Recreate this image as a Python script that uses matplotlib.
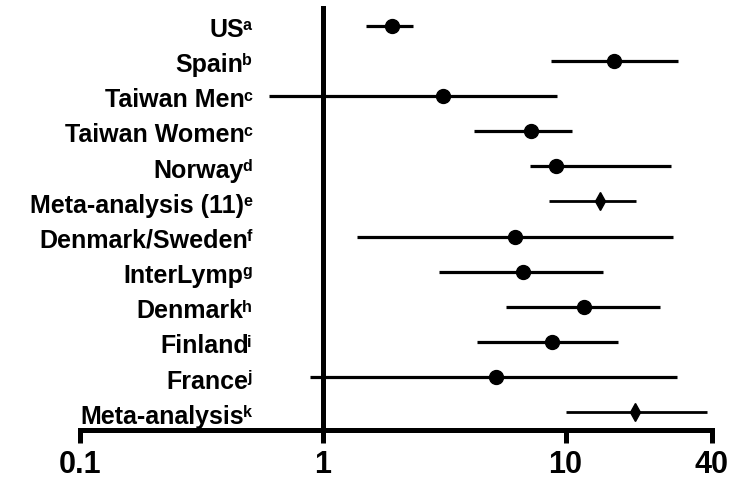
import matplotlib
matplotlib.use("Agg")
import matplotlib.pyplot as plt
import numpy as np

plt.rcParams['font.family'] = ['Liberation Sans', 'DejaVu Sans']

# Study names, footnote letters and odds ratios with 95% CI
studies = ['US', 'Spain', 'Taiwan Men', 'Taiwan Women', 'Norway',
           'Meta-analysis (11)', 'Denmark/Sweden', 'InterLymp', 'Denmark',
           'Finland', 'France', 'Meta-analysis']
notes = ['a', 'b', 'c', 'c', 'd', 'e', 'f', 'g', 'h', 'i', 'j', 'k']
odds = [1.92, 15.8, 3.13, 7.19, 9.12, 13.9, 6.18, 6.69, 11.9, 8.82, 5.16, 19.3]
ci_low = [1.50, 8.70, 0.60, 4.21, 7.13, 8.53, 1.39, 3.01, 5.71, 4.31, 0.89, 10.0]
ci_high = [2.36, 29.0, 9.24, 10.6, 27.1, 19.5, 27.6, 14.2, 24.6, 16.5, 28.7, 38.1]
is_pooled = [False, False, False, False, False, True,
             False, False, False, False, False, True]

xticks = [0.1, 1, 10, 40]
xtick_labels = ['0.1', '1', '10', '40']

PX = 0.72  # points per pixel at dpi 100

fig = plt.figure(figsize=(7.42, 4.82), dpi=100)
ax = fig.add_axes([80 / 742, 52 / 482, (711.7 - 80) / 742, (474 - 52) / 482])

odds = np.array(odds)
ci_low = np.array(ci_low)
ci_high = np.array(ci_high)

for i in range(len(studies)):
    if is_pooled[i]:
        ax.hlines(i, ci_low[i], ci_high[i], color='black', lw=2.0)
        ax.plot(odds[i], i, marker='d', ms=9, color='black', zorder=3)
    else:
        ax.hlines(i, ci_low[i], ci_high[i], color='black', lw=2.3)
        ax.plot(odds[i], i, marker='o', ms=10, color='black', zorder=3)

ax.set_xscale('log')
ax.set_xlim(0.1, 40)
ax.set_ylim(len(studies) - 0.5, -0.5)

# Prism style axes: vertical line at OR = 1
for side in ['top', 'right']:
    ax.spines[side].set_visible(False)
ax.spines['left'].set_position(('data', 1))
ax.spines['left'].set_linewidth(3.6)
ax.spines['bottom'].set_linewidth(3.6)
ax.set_yticks([])
ax.minorticks_off()
ax.set_xticks(xticks)
ax.set_xticklabels(xtick_labels, fontsize=22, fontweight='bold')
ax.tick_params(axis='x', which='both', direction='out', length=9.4,
               width=3.6, pad=5)
ax.xaxis.set_minor_locator(matplotlib.ticker.NullLocator())

# Row labels with superscript footnote letters
for i, (name, note) in enumerate(zip(studies, notes)):
    sup = ax.annotate(note, xy=(1, i), xycoords='data',
                      xytext=(-71 * PX, -4.6 * PX), textcoords='offset points',
                      ha='right', va='baseline', fontsize=11.5,
                      fontweight='bold', annotation_clip=False)
    ax.annotate(name, xy=(0, i), xycoords=(sup, 'data'),
                xytext=(1.0, -11.3 * PX), textcoords='offset points',
                ha='right', va='baseline', fontsize=18,
                fontweight='bold', annotation_clip=False)

fig.savefig('out.png', dpi=100)
